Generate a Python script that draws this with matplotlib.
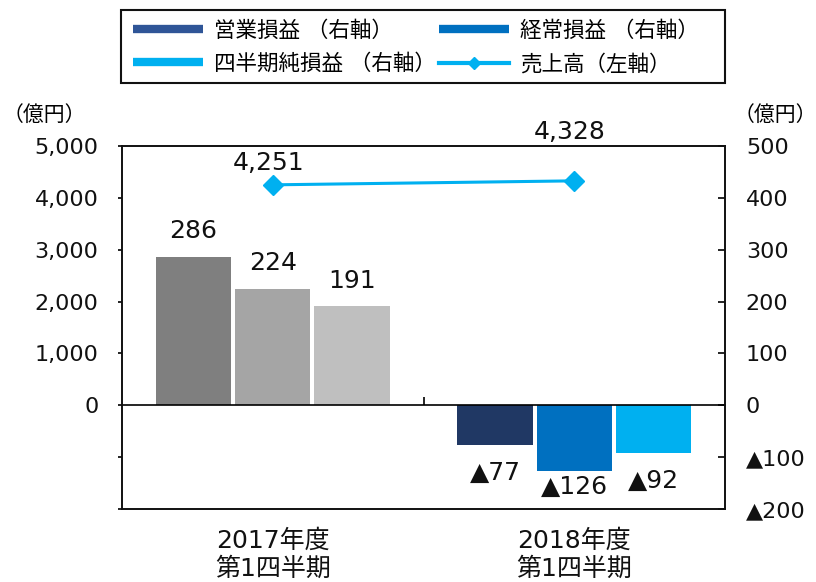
import matplotlib
matplotlib.use('Agg')
import matplotlib.pyplot as plt
from matplotlib.lines import Line2D
from matplotlib.patches import Rectangle
import numpy as np

plt.rcParams['font.family'] = ['DejaVu Sans', 'Noto Sans CJK JP']

# quarterly results, 億円
categories = ['2017年度\n第1四半期', '2018年度\n第1四半期']
operating_profit = [286, -77]
ordinary_profit = [224, -126]
net_profit = [191, -92]
sales = [4251, 4328]

left_ticks = [-2000, -1000, 0, 1000, 2000, 3000, 4000, 5000]
left_labels = ['', '', '0', '1,000', '2,000', '3,000', '4,000', '5,000']
right_ticks = [-200, -100, 0, 100, 200, 300, 400, 500]
right_labels = ['▲200', '▲100', '0', '100', '200', '300', '400', '500']


def fmt(v):
    return f'▲{abs(v)}' if v < 0 else f'{v:,}'


fig = plt.figure(figsize=(8.16, 5.82), dpi=100)
W, H = 816, 582
ax = fig.add_axes([122 / W, 1 - 509 / H, (725 - 122) / W, (509 - 146) / H])
ax2 = ax.twinx()

x = np.arange(len(categories))
width = 0.25
step = 0.263

series = [
    (operating_profit, ['#7F7F7F', '#203864'], [19, -20]),
    (ordinary_profit, ['#A5A5A5', '#0070C0'], [19, -12]),
    (net_profit, ['#BFBFBF', '#00B0F0'], [18, -20]),
]
for i, (vals, cols, offs) in enumerate(series):
    xs = x + (i - 1) * step
    ax2.bar(xs, vals, width, color=cols, zorder=2)
    for xi, v, dy in zip(xs, vals, offs):
        ax2.annotate(fmt(v), (xi, v), xytext=(0, dy), textcoords='offset points',
                     ha='center', va='center', fontsize=18, color='#111111')

# sales line on the left axis, drawn above the bars
ax.plot(x, sales, color='#00B0F0', lw=2.2, marker='D', ms=10, zorder=3)
for xi, v, dy in zip(x, sales, [16, 35]):
    ax.annotate(fmt(v), (xi, v), xytext=(-3, dy), textcoords='offset points',
                ha='center', va='center', fontsize=18, color='#111111',
                annotation_clip=False)
ax.set_zorder(ax2.get_zorder() + 1)
ax.patch.set_visible(False)

ax.set_xlim(-0.5, 1.5)
ax.set_ylim(-2000, 5000)
ax2.set_ylim(-200, 500)

ax.set_yticks(left_ticks)
ax.set_yticklabels(left_labels)
ax2.set_yticks(right_ticks)
ax2.set_yticklabels(right_labels)
ax.tick_params(axis='y', direction='out', length=3, width=1.2, pad=14,
               labelsize=16, labelcolor='#111111')
ax2.tick_params(axis='y', direction='in', length=5, width=1.2, pad=15,
                labelsize=16, labelcolor='#111111')

ax.set_xticks(x)
ax.set_xticklabels(categories)
ax.tick_params(axis='x', length=0, pad=14, labelsize=18, labelcolor='#111111')
for lbl in ax.get_xticklabels():
    lbl.set_linespacing(1.25)

# zero line with the category divider tick
zero = ax.secondary_xaxis(2000 / 7000)
zero.set_xticks([0.5])
zero.set_xticklabels([''])
zero.tick_params(direction='in', length=6, width=1.2)
zero.spines['bottom'].set_linewidth(1.2)

for a in (ax, ax2):
    for s in a.spines.values():
        s.set_linewidth(1.2)
        s.set_color('#111111')

fig.text(44 / W, 1 - 115 / H, '（億円）', ha='center', va='center', fontsize=15)
fig.text(775 / W, 1 - 115 / H, '（億円）', ha='center', va='center', fontsize=15)

handles = [
    Line2D([], [], color='#2F5597', lw=6, solid_capstyle='butt'),
    Line2D([], [], color='#00B0F0', lw=6, solid_capstyle='butt'),
    Line2D([], [], color='#0070C0', lw=6, solid_capstyle='butt'),
    Line2D([], [], color='#00B0F0', lw=3, marker='D', ms=6),
]
labels = ['営業損益 （右軸）', '四半期純損益 （右軸）', '経常損益 （右軸）', '売上高（左軸）']
fs = 15.5
fig.legend(handles, labels, loc='upper left', ncol=2, frameon=False,
           bbox_to_anchor=(133 / W, 1 - 20 / H), borderaxespad=0, borderpad=0,
           fontsize=fs, handlelength=70 / (fs * 100 / 72), handletextpad=0.5,
           labelspacing=0.6, columnspacing=0.15)
fig.patches.append(Rectangle((121 / W, 1 - 83 / H), (725 - 121) / W, (83 - 10) / H,
                             transform=fig.transFigure, fill=False,
                             edgecolor='#111111', lw=1.5))

fig.savefig('out.png', dpi=100)
